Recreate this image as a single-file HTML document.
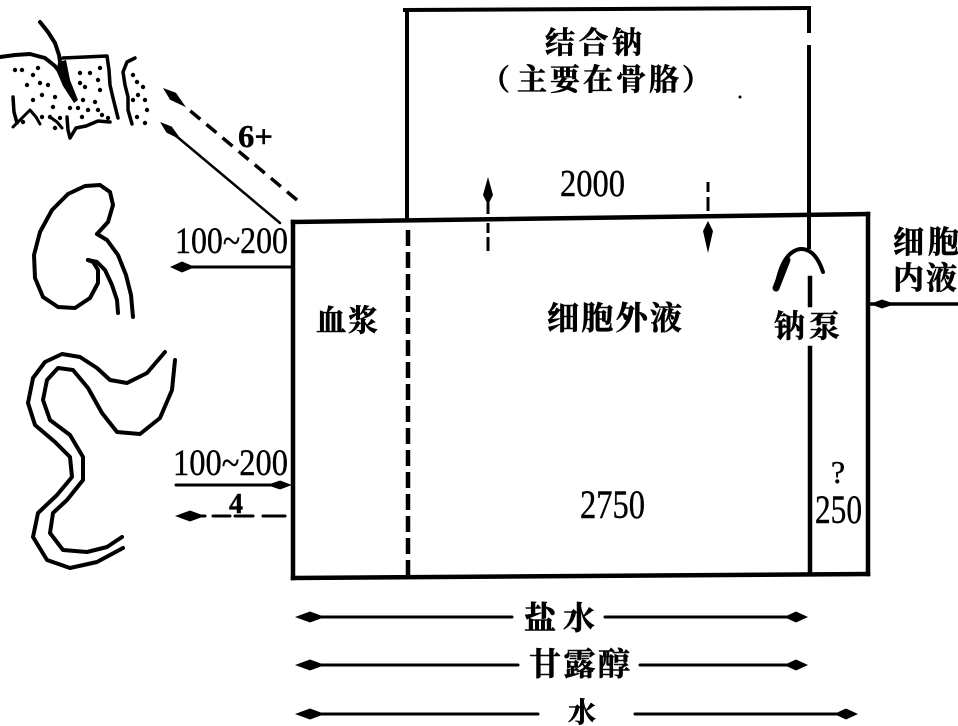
<!DOCTYPE html>
<html><head><meta charset="utf-8">
<style>
html,body{margin:0;padding:0;background:#fff;}
svg{display:block;}
.cjk{font-family:"Liberation Serif","Noto Serif CJK SC","Noto Sans CJK SC",serif;font-weight:700;fill:#000;stroke:#000;stroke-width:0.6;}
.num{font-family:"Liberation Serif",serif;fill:#000;stroke:#000;stroke-width:0.4;}
</style></head>
<body>
<svg width="958" height="726" viewBox="0 0 958 726" xmlns="http://www.w3.org/2000/svg">
<rect width="958" height="726" fill="#fff"/>
<g stroke="#000" fill="none" stroke-linecap="round" stroke-linejoin="round">
  <!-- skin drawing -->
  <polyline points="40,22 48,32 55,43 59,55 61,68" stroke-width="4"/>
  <polyline points="0,57 15,55 30,54 45,58 55,66 62,75" stroke-width="4"/>
  <polyline points="63,58 85,57 107,56 109,70 110,85 113,98 116,110 118,118" stroke-width="3.5"/>
  <polyline points="13,97 14,112 17,123" stroke-width="3.5"/>
  <polyline points="13,127 22,118 30,110 36,117 40,124" stroke-width="3"/>
  <polyline points="50,117 57,122 62,128" stroke-width="3"/>
  <polyline points="67,117 68,130 70,138 76,128 86,126 98,121 110,122" stroke-width="3.5"/>
  <polyline points="135,58 127,62 123,72 125,85 128,97 128,110 132,124" stroke-width="3.5"/>
  <!-- kidney -->
  <polyline points="97,234 108,222 113,205 110,192 100,185 85,186 68,194 52,210 40,232 34,255 35,278 43,297 58,307 75,308 90,298 98,283 98,270 93,262 88,260" stroke-width="4"/>
  <polyline points="97,234 107,240 118,255 126,275 131,295 133,317" stroke-width="4"/>
  <polyline points="88,260 97,262 105,270 112,285 117,300 118,313" stroke-width="4"/>
  <!-- intestine -->
  <polyline points="165,352 147,373 127,383 110,380 97,368 80,357 62,354 45,362 33,378 28,403 35,425 55,442 70,457 72,477 57,495 38,513 33,537 47,560 70,568 97,562 123,548" stroke-width="4"/>
  <polyline points="175,360 172,390 160,418 140,434 117,432 102,413 88,388 73,370 58,368 47,380 43,400 50,420 70,435 83,457 83,480 67,500 53,513 50,533 63,550 87,552 107,547 122,537" stroke-width="4"/>
</g>
<g fill="#000">
  <polygon points="58,62 66,60 70,80 78,100 74,103 63,86 57,72"/>
  <circle cx="15" cy="70" r="2.2"/><circle cx="22" cy="70" r="2.2"/><circle cx="33" cy="75" r="2.2"/>
  <circle cx="38" cy="68" r="2.2"/><circle cx="27" cy="85" r="2.2"/><circle cx="40" cy="83" r="2.2"/>
  <circle cx="48" cy="85" r="2.2"/><circle cx="55" cy="97" r="2.2"/><circle cx="42" cy="95" r="2.2"/>
  <circle cx="33" cy="100" r="2.2"/><circle cx="53" cy="107" r="2.2"/><circle cx="80" cy="73" r="2.2"/>
  <circle cx="90" cy="73" r="2.2"/><circle cx="100" cy="68" r="2.2"/><circle cx="80" cy="83" r="2.2"/>
  <circle cx="98" cy="80" r="2.2"/><circle cx="85" cy="87" r="2.2"/><circle cx="100" cy="90" r="2.2"/>
  <circle cx="95" cy="102" r="2.2"/><circle cx="83" cy="100" r="2.2"/><circle cx="70" cy="108" r="2.2"/>
  <circle cx="78" cy="108" r="2.2"/><circle cx="88" cy="110" r="2.2"/><circle cx="98" cy="110" r="2.2"/>
  <circle cx="102" cy="115" r="2.2"/><circle cx="108" cy="118" r="2.2"/><circle cx="60" cy="118" r="2.2"/>
  <circle cx="50" cy="117" r="2.2"/><circle cx="42" cy="117" r="2.2"/><circle cx="23" cy="122" r="2.2"/>
  <circle cx="55" cy="128" r="2.2"/><circle cx="82" cy="117" r="2.2"/><circle cx="133" cy="75" r="2.2"/>
  <circle cx="137" cy="82" r="2.2"/><circle cx="143" cy="87" r="2.2"/><circle cx="138" cy="95" r="2.2"/>
  <circle cx="145" cy="100" r="2.2"/><circle cx="133" cy="100" r="2.2"/><circle cx="147" cy="110" r="2.2"/>
  <circle cx="137" cy="117" r="2.2"/><circle cx="145" cy="123" r="2.2"/>
  <circle cx="740" cy="97" r="1.5"/>
</g>

<!-- boxes -->
<g stroke="#000" fill="none" stroke-linecap="square">
  <line x1="405" y1="10" x2="809" y2="8" stroke-width="4"/>
  <line x1="407" y1="10" x2="407" y2="220" stroke-width="4"/>
  <line x1="809" y1="8" x2="809" y2="31" stroke-width="4"/>
  <line x1="809" y1="47" x2="809" y2="247" stroke-width="4"/>
  <line x1="293" y1="222" x2="868" y2="214" stroke-width="4.5"/>
  <line x1="293" y1="222" x2="293" y2="578" stroke-width="4.5"/>
  <line x1="293" y1="578" x2="868" y2="574" stroke-width="4.5"/>
  <line x1="868" y1="214" x2="868" y2="574" stroke-width="4.5"/>
  <line x1="810" y1="278" x2="810" y2="305" stroke-width="4.5"/>
  <line x1="810" y1="348" x2="810" y2="573" stroke-width="4.5"/>
  <line x1="408" y1="230" x2="408" y2="576" stroke-width="4.5" stroke-dasharray="16 6" stroke-linecap="butt"/>
</g>

<!-- pump arc -->
<g stroke="#000" fill="none" stroke-linecap="round">
  <path d="M776,288 Q782,252 800,249 Q815,248 823,272" stroke-width="4"/>
  <path d="M776,288 L787,260" stroke-width="7"/>
</g>

<!-- vertical arrows in top box -->
<g stroke="#000" stroke-width="3" stroke-linecap="butt">
  <line x1="488" y1="203" x2="488" y2="214"/>
  <line x1="488" y1="223" x2="488" y2="233"/>
  <line x1="488" y1="237" x2="488" y2="251"/>
  <line x1="708" y1="182" x2="708" y2="192"/>
  <line x1="708" y1="197" x2="708" y2="211"/>
</g>
<g fill="#000">
  <polygon points="488,177 493,195 488,205 483,195"/>
  <polygon points="708,221 713,231 708,253 703,231"/>
</g>

<!-- left side arrows -->
<g stroke="#000" fill="none" stroke-linecap="round">
  <line x1="280" y1="223" x2="175" y2="135" stroke-width="2.5"/>
  <line x1="297" y1="200" x2="188" y2="109" stroke-width="3.5" stroke-dasharray="13 8" stroke-linecap="butt"/>
  <line x1="185" y1="267" x2="293" y2="267" stroke-width="3"/>
  <line x1="176" y1="485" x2="282" y2="485" stroke-width="3"/>
  <line x1="213" y1="516" x2="230" y2="516" stroke-width="3"/>
  <line x1="235" y1="516" x2="253" y2="516" stroke-width="3"/>
  <line x1="263" y1="516" x2="285" y2="516" stroke-width="3"/>
  <line x1="195" y1="516" x2="205" y2="516" stroke-width="3"/>
  <line x1="868" y1="304" x2="958" y2="304" stroke-width="3.5"/>
</g>
<g fill="#000">
  <polygon points="160,122 171.8,126.6 181.4,140 166.6,132.8"/>
  <polygon points="163,88 175.9,92.8 186,107.2 170.1,99.8"/>
  <polygon points="170,267 182,261.5 195,267 182,272.5"/>
  <polygon points="292,485 280,480.5 267,485 280,489.5"/>
  <polygon points="175,516 190,510.5 205,516 190,521.5"/>
  <polygon points="870,304 882,299.5 895,304 882,308.5"/>
</g>

<!-- bottom arrows -->
<g stroke="#000" stroke-width="3" stroke-linecap="round">
  <line x1="305" y1="617" x2="512" y2="617"/>
  <line x1="605" y1="617" x2="798" y2="617"/>
  <line x1="305" y1="665" x2="518" y2="665"/>
  <line x1="640" y1="665" x2="798" y2="665"/>
  <line x1="305" y1="714" x2="538" y2="714"/>
  <line x1="635" y1="714" x2="848" y2="714"/>
</g>
<g fill="#000">
  <polygon points="295,617 310,611.5 325,617 310,622.5"/>
  <polygon points="808,617 796,611.5 784,617 796,622.5"/>
  <polygon points="295,665 310,659.5 325,665 310,670.5"/>
  <polygon points="808,665 796,659.5 784,665 796,670.5"/>
  <polygon points="295,714 310,708.5 325,714 310,719.5"/>
  <polygon points="858,714 846,708.5 834,714 846,719.5"/>
</g>

<!-- text -->
<text class="cjk" x="545" y="53" font-size="30" textLength="97" lengthAdjust="spacing">结合钠</text>
<text class="cjk" x="481" y="90" font-size="29">（</text>
<text class="cjk" x="517" y="90" font-size="30" textLength="162" lengthAdjust="spacing">主要在骨胳</text>
<text class="cjk" x="682" y="90" font-size="29">）</text>
<text class="num" x="560" y="196" font-size="38" textLength="65" lengthAdjust="spacingAndGlyphs">2000</text>
<text class="cjk" x="316" y="331" font-size="30" textLength="62" lengthAdjust="spacing">血浆</text>
<text class="cjk" x="547" y="329" font-size="32" textLength="135" lengthAdjust="spacing">细胞外液</text>
<text class="cjk" x="774" y="337" font-size="31" textLength="66" lengthAdjust="spacing">钠泵</text>
<text class="cjk" x="893" y="253" font-size="31" textLength="66" lengthAdjust="spacing">细胞</text>
<text class="cjk" x="893" y="289" font-size="31" textLength="64" lengthAdjust="spacing">内液</text>
<text class="num" x="580" y="518" font-size="40" textLength="65" lengthAdjust="spacingAndGlyphs">2750</text>
<text class="num" x="838" y="483" font-size="32" text-anchor="middle">?</text>
<text class="num" x="815" y="523" font-size="40" textLength="47" lengthAdjust="spacingAndGlyphs">250</text>
<text class="num" x="175" y="253" font-size="37" textLength="113" lengthAdjust="spacingAndGlyphs">100~200</text>
<text class="num" x="173" y="475" font-size="37" textLength="115" lengthAdjust="spacingAndGlyphs">100~200</text>
<text class="num" x="236" y="513" font-size="28" font-weight="700" text-anchor="middle">4</text>
<text class="num" x="238" y="147" font-size="32" font-weight="700" textLength="35" lengthAdjust="spacingAndGlyphs">6+</text>
<text class="cjk" x="524" y="629" font-size="32" textLength="71" lengthAdjust="spacing">盐水</text>
<text class="cjk" x="529" y="675" font-size="32" textLength="101" lengthAdjust="spacing">甘露醇</text>
<text class="cjk" x="568" y="722" font-size="28">水</text>
</svg>
</body></html>
